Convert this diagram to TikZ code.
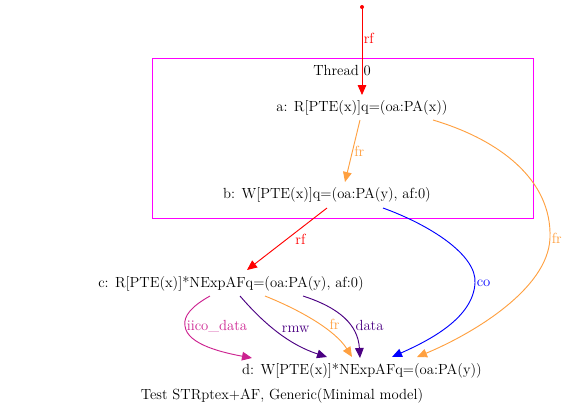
\documentclass[tikz,border=0pt]{standalone}
\usetikzlibrary{calc,arrows.meta}
\definecolor{frorange}{RGB}{255,160,64}
\definecolor{iicopink}{RGB}{204,34,144}
\definecolor{depindigo}{RGB}{75,0,130}
\definecolor{thrmagenta}{RGB}{255,0,255}
\begin{document}
\begin{tikzpicture}[x=0.75pt,y=-0.75pt,font=\fontsize{11}{13}\selectfont,
  ev/.style={inner sep=1pt},
  edge/.style={-{Triangle[length=7.5pt,width=6.5pt]},line width=0.7pt},
  lab/.style={inner sep=1pt,anchor=west}]
\useasboundingbox(0,0)rectangle(567,415);
\draw[thrmagenta,line width=0.7pt](152,58)rectangle(533,218);
\node[ev](thr)at(342,71){Thread 0};
\node[ev](a)at(362,108){a: R[PTE(x)]q=(oa:PA(x))};
\node[ev](b)at(327,195){b: W[PTE(x)]q=(oa:PA(y), af:0)};
\node[ev](c)at(231,284){c: R[PTE(x)]*NExpAFq=(oa:PA(y), af:0)};
\node[ev](d)at(362,371){d: W[PTE(x)]*NExpAFq=(oa:PA(y))};
\node[ev](caption)at(282,396){Test STRptex+AF, Generic(Minimal model)};
\coordinate(init)at(362,7);
\fill[red](init)circle(2);
% thread 0
\draw[edge,red](init)--($(a)+(0,-13)$)node[lab,pos=0.36]{rf};
\draw[edge,frorange]($(a)+(-2,12)$)--($(b)+(18,-13)$)node[lab,pos=0.5]{fr};
\draw[edge,frorange]($(a)+(71,12)$)..controls(500,140)and(552,180)..(550,238)node[lab]{fr}
  ..controls(548,290)and(470,335)..($(d)+(55,-14)$);
\draw[edge,blue]($(b)+(56,13)$)..controls(430,225)and(477,255)..(475,283)node[lab]{co}
  ..controls(473,318)and(430,340)..($(d)+(30,-14)$);
\draw[edge,red]($(b)+(0,13)$)--($(c)+(16,-14)$)node[lab,pos=0.5,xshift=5pt]{rf};
% c to d
\draw[edge,iicopink]($(c)+(-21,12)$)..controls(192,306)and(183,316)..(185,326)node[lab]{iico\_data}
  ..controls(187,345)and(225,353)..($(d)+(-110,-13)$);
\draw[edge,depindigo]($(c)+(9,12)$)..controls(265,325)and(290,345)..($(d)+(-35,-14)$)
  node[lab,pos=0.45,xshift=4pt]{rmw};
\draw[edge,frorange]($(c)+(34,12)$)..controls(300,310)and(335,330)..($(d)+(-10,-14)$)
  node[lab,pos=0.55,xshift=6pt]{fr};
\draw[edge,depindigo]($(c)+(72,12)$)..controls(340,308)and(358,325)..($(d)+(-2,-13)$)
  node[lab,pos=0.6,xshift=3pt]{data};
\end{tikzpicture}
\end{document}
